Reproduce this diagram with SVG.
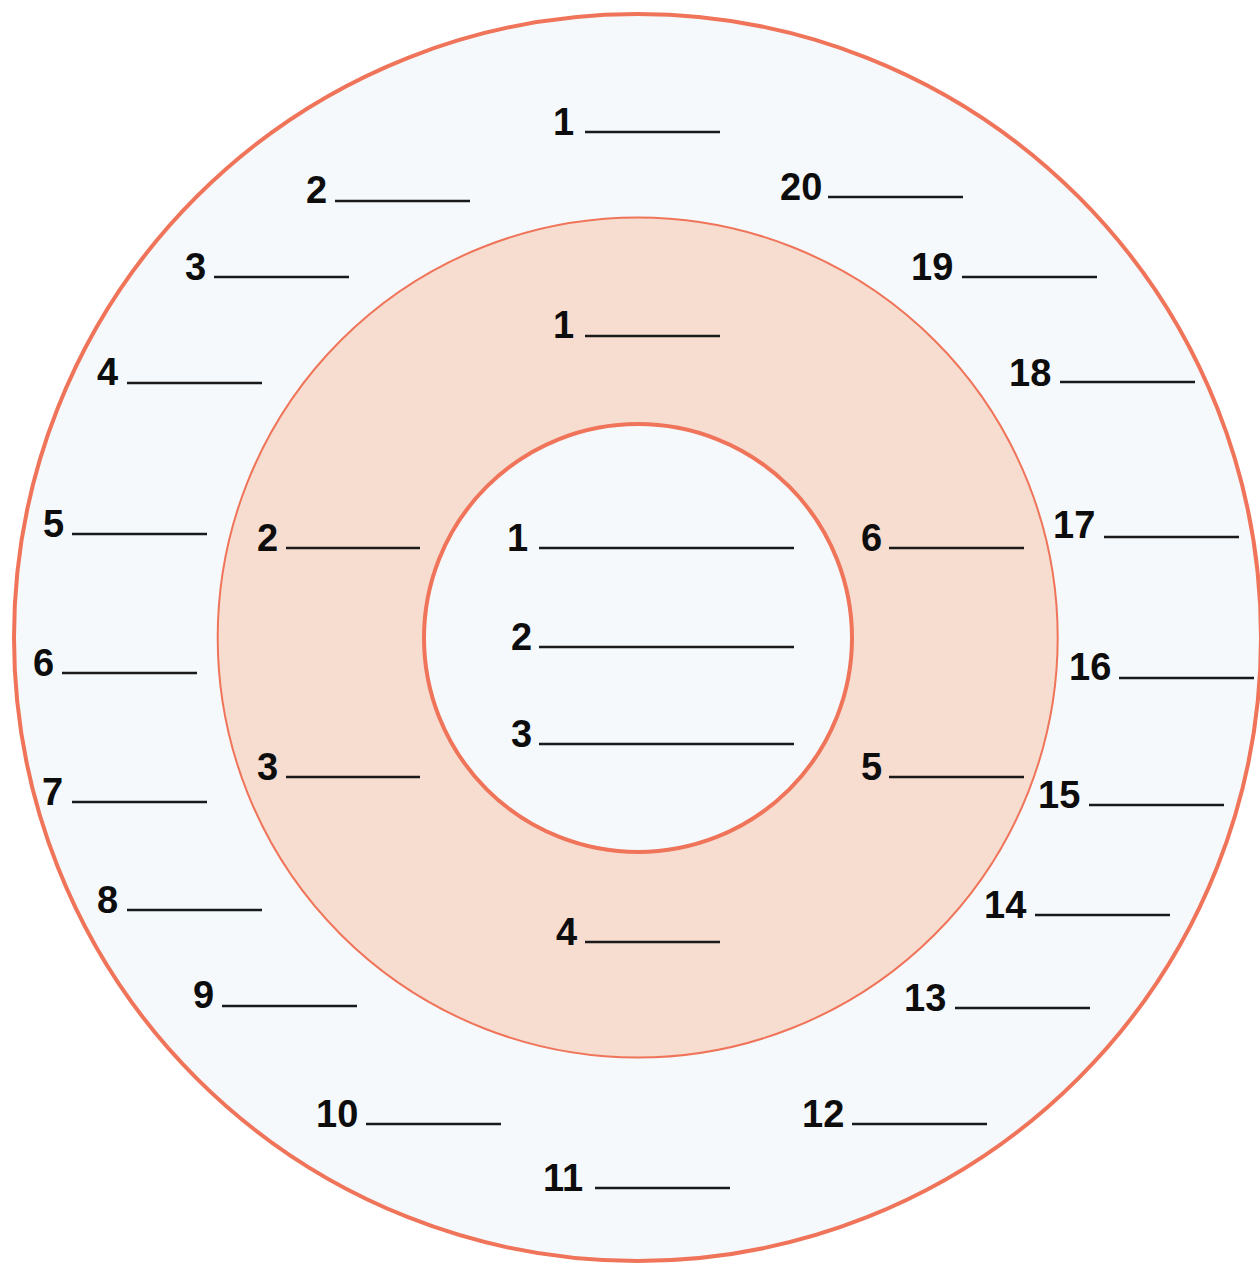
<svg xmlns="http://www.w3.org/2000/svg" width="1260" height="1263" viewBox="0 0 1260 1263">
<style>
.ring{stroke:#EF7459;}
.num{font-family:"Liberation Sans",Arial,sans-serif;font-weight:bold;font-size:38px;fill:#0d0d0d;}
.ln{stroke:#1a1a1a;stroke-width:2.6;}
</style>
<rect width="1260" height="1263" fill="#ffffff"/>
<g id="outer-ring"><circle cx="637.5" cy="637.5" r="623.5" fill="#F5F9FC" class="ring" stroke-width="4"/></g>
<g id="middle-ring"><circle cx="637.7" cy="637.5" r="420" fill="#F7DCD0" class="ring" stroke-width="2"/></g>
<g id="inner-ring"><circle cx="638" cy="638" r="214" fill="#F5F9FC" class="ring" stroke-width="4"/></g>
<g id="outer-labels">
<g id="o1"><text class="num" x="553" y="135">1</text><line class="ln" x1="585" y1="132" x2="720" y2="132"/></g>
<g id="o2"><text class="num" x="306" y="203">2</text><line class="ln" x1="335" y1="201" x2="470" y2="201"/></g>
<g id="o3"><text class="num" x="185" y="280">3</text><line class="ln" x1="214" y1="277" x2="349" y2="277"/></g>
<g id="o4"><text class="num" x="97" y="385">4</text><line class="ln" x1="127" y1="383" x2="262" y2="383"/></g>
<g id="o5"><text class="num" x="43" y="537">5</text><line class="ln" x1="72" y1="534" x2="207" y2="534"/></g>
<g id="o6"><text class="num" x="33" y="676">6</text><line class="ln" x1="62" y1="673" x2="197" y2="673"/></g>
<g id="o7"><text class="num" x="42" y="805">7</text><line class="ln" x1="72" y1="802" x2="207" y2="802"/></g>
<g id="o8"><text class="num" x="97" y="913">8</text><line class="ln" x1="127" y1="910" x2="262" y2="910"/></g>
<g id="o9"><text class="num" x="193" y="1008">9</text><line class="ln" x1="222" y1="1006" x2="357" y2="1006"/></g>
<g id="o10"><text class="num" x="316" y="1127">10</text><line class="ln" x1="366" y1="1124" x2="501" y2="1124"/></g>
<g id="o11"><text class="num" x="543" y="1191">11</text><line class="ln" x1="595" y1="1188" x2="730" y2="1188"/></g>
<g id="o12"><text class="num" x="802" y="1127">12</text><line class="ln" x1="852" y1="1124" x2="987" y2="1124"/></g>
<g id="o13"><text class="num" x="904" y="1011">13</text><line class="ln" x1="955" y1="1008" x2="1090" y2="1008"/></g>
<g id="o14"><text class="num" x="984" y="918">14</text><line class="ln" x1="1035" y1="915" x2="1170" y2="915"/></g>
<g id="o15"><text class="num" x="1038" y="808">15</text><line class="ln" x1="1089" y1="805" x2="1224" y2="805"/></g>
<g id="o16"><text class="num" x="1069" y="680">16</text><line class="ln" x1="1119" y1="678" x2="1254" y2="678"/></g>
<g id="o17"><text class="num" x="1053" y="538">17</text><line class="ln" x1="1104" y1="537" x2="1239" y2="537"/></g>
<g id="o18"><text class="num" x="1009" y="386">18</text><line class="ln" x1="1060" y1="382" x2="1195" y2="382"/></g>
<g id="o19"><text class="num" x="911" y="280">19</text><line class="ln" x1="962" y1="277" x2="1097" y2="277"/></g>
<g id="o20"><text class="num" x="780" y="200">20</text><line class="ln" x1="828" y1="197" x2="963" y2="197"/></g>
</g>
<g id="middle-labels">
<g id="m1"><text class="num" x="553" y="338">1</text><line class="ln" x1="585" y1="336" x2="720" y2="336"/></g>
<g id="m2"><text class="num" x="257" y="551">2</text><line class="ln" x1="286" y1="548" x2="420" y2="548"/></g>
<g id="m3"><text class="num" x="257" y="780">3</text><line class="ln" x1="286" y1="777" x2="420" y2="777"/></g>
<g id="m4"><text class="num" x="556" y="945">4</text><line class="ln" x1="585" y1="942" x2="720" y2="942"/></g>
<g id="m5"><text class="num" x="861" y="780">5</text><line class="ln" x1="889" y1="777" x2="1024" y2="777"/></g>
<g id="m6"><text class="num" x="861" y="551">6</text><line class="ln" x1="889" y1="548" x2="1024" y2="548"/></g>
</g>
<g id="inner-labels">
<g id="i1"><text class="num" x="507" y="551">1</text><line class="ln" x1="539" y1="548" x2="794" y2="548"/></g>
<g id="i2"><text class="num" x="511" y="650">2</text><line class="ln" x1="539" y1="647" x2="794" y2="647"/></g>
<g id="i3"><text class="num" x="511" y="747">3</text><line class="ln" x1="539" y1="744" x2="794" y2="744"/></g>
</g>
</svg>
